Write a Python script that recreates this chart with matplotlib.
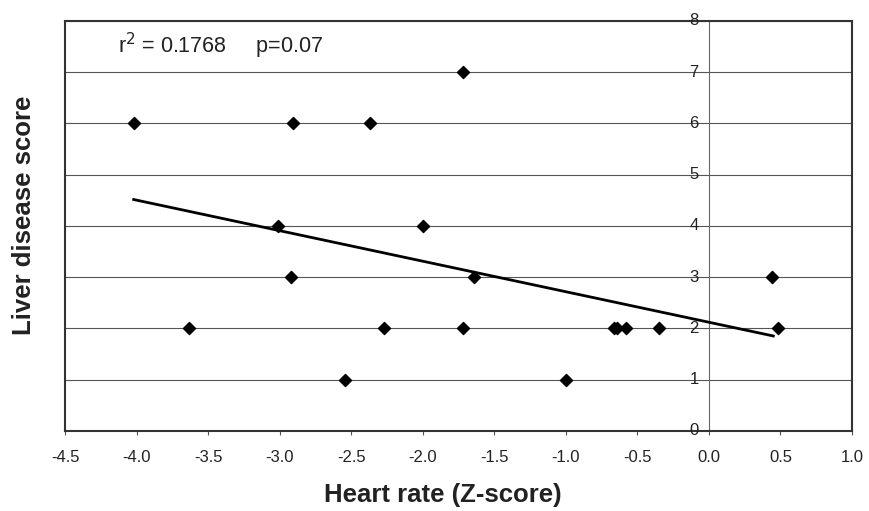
import numpy as np
import matplotlib.pyplot as plt

plt.rcParams['font.family'] = ['Liberation Sans', 'DejaVu Sans']

# heart rate z-score vs liver disease score
heart_rate = [-4.02, -2.91, -2.37, -1.72, -3.01, -2.00, -1.64, -2.92, 0.44,
              -3.63, -2.27, -1.72, -0.66, -0.64, -0.58, -0.35, 0.48, -2.54, -1.00]
liver_score = [6, 6, 6, 7, 4, 4, 3, 3, 3,
               2, 2, 2, 2, 2, 2, 2, 2, 1, 1]

x_ticks = [-4.5, -4.0, -3.5, -3.0, -2.5, -2.0, -1.5, -1.0, -0.5, 0.0, 0.5, 1.0]
y_ticks = [0, 1, 2, 3, 4, 5, 6, 7, 8]

x = np.array(heart_rate)
y = np.array(liver_score)
slope, intercept = np.polyfit(x, y, 1)

fig = plt.figure(figsize=(8.69, 5.11), dpi=100)
ax = fig.add_axes([0.0748, 0.1566, 0.9056, 0.8024])

for v in y_ticks:
    ax.axhline(v, color='#555555', lw=0.8, zorder=1)
ax.axvline(0, color='#666666', lw=0.8, zorder=1)

ax.scatter(x, y, marker='D', s=38, color='black', zorder=3)
xl = np.array([x.min(), 0.45])
ax.plot(xl, slope * xl + intercept, color='black', lw=2, zorder=2)

ax.set_xlim(-4.5, 1.0)
ax.set_ylim(0, 8)
ax.set_xticks(x_ticks)
ax.set_xticklabels([f'{t:.1f}' for t in x_ticks], fontsize=12, color='#222222')
ax.tick_params(axis='x', direction='out', length=3, width=0.8, pad=11, color='#555555')
ax.set_yticks(y_ticks)
ax.tick_params(axis='y', left=False, labelleft=False)
for v in y_ticks:
    ax.text(-0.07, v, str(v), ha='right', va='center', fontsize=12, color='#222222')

for s in ax.spines.values():
    s.set_color('#333333')
    s.set_linewidth(1.5)

ax.text(-4.13, 7.52, r'r$^2$ = 0.1768     p=0.07', fontsize=15.5, color='#222222',
        ha='left', va='center')

ax.set_xlabel('Heart rate (Z-score)', fontsize=18.5, fontweight='bold', color='#222222')
ax.set_ylabel('Liver disease score', fontsize=18.5, fontweight='bold', color='#222222')
ax.xaxis.set_label_coords(0.48, -0.128)
ax.yaxis.set_label_coords(-0.037, 0.527)

fig.savefig('out.png', dpi=100)
